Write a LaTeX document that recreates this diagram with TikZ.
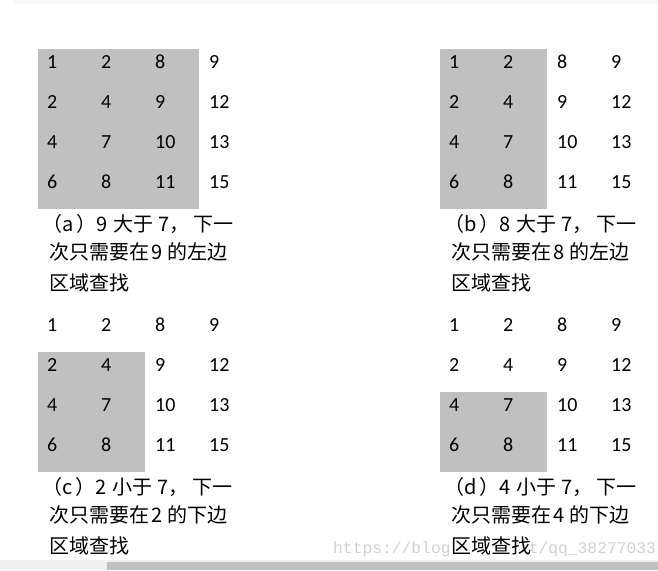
\documentclass[tikz,border=0pt]{standalone}
\usepackage{fontspec}
\setmainfont{Carlito}
\newfontfamily\cjk{Noto Sans CJK SC}
\newfontfamily\wmfont{Liberation Mono}
\definecolor{boxgray}{RGB}{192,192,192}
\definecolor{wmgray}{RGB}{208,208,208}
\tikzset{
  num/.style={anchor=base west,inner sep=0pt,font=\fontsize{20}{24}\selectfont},
  capline/.style={anchor=base west,inner sep=0pt,fill=white,font=\cjk\fontsize{20}{24}\selectfont},
}
\begin{document}
\begin{tikzpicture}[x=1pt,y=-1pt]
	\useasboundingbox (0,0) rectangle (658,570);
	% viền trang
	\fill[black!3] (14,0) rectangle (658,4);
	\fill[black!6] (0,560) rectangle (658,570);
	\fill[boxgray] (107,562) rectangle (658,570);
	% watermark
	\begin{scope}
	\clip (0,0) rectangle (658,570);
	\node[anchor=base west,inner sep=0pt,text=wmgray,font=\wmfont\fontsize{16.3}{18}\selectfont] (wm) at (333,553) {https://blog.csdn.net/qq\_38277033};
	\end{scope}
	% vùng xám
	\fill[boxgray] (38,49) rectangle (199,209);   % (a)
	\fill[boxgray] (440,49) rectangle (547,209);  % (b)
	\fill[boxgray] (38,352) rectangle (145,472);  % (c)
	\fill[boxgray] (440,392) rectangle (547,472); % (d)
	% các số
	\foreach \g/\dx/\dy in {a/0/0,b/402/0,c/0/263,d/402/263}
	\foreach \r/\row in {1/{1,2,8,9},2/{2,4,9,12},3/{4,7,10,13},4/{6,8,11,15}}
	\foreach \v [count=\c] in \row
	\node[num] (\g-\r-\c) at (\dx+54*\c-7, \dy+28+40*\r) {\v};
	% chú thích (a)
	\node[capline] (capa1) at (42,231) {（a\hspace{3pt}）9\hspace{6pt}大于\hspace{5pt}7，\hspace{4pt}下一};
	\node[capline] (capa2) at (49,259) {次只需要在\hspace{2pt}9\hspace{5pt}的左边};
	\node[capline] (capa3) at (49,290) {区域查找};
	% chú thích (b)
	\node[capline] (capb1) at (444,231) {（b\hspace{3pt}）8\hspace{6pt}大于\hspace{5pt}7，\hspace{4pt}下一};
	\node[capline] (capb2) at (451,259) {次只需要在\hspace{2pt}8\hspace{5pt}的左边};
	\node[capline] (capb3) at (451,290) {区域查找};
	% chú thích (c)
	\node[capline] (capc1) at (42,494) {（c\hspace{3pt}）2\hspace{6pt}小于\hspace{5pt}7，\hspace{4pt}下一};
	\node[capline] (capc2) at (49,522) {次只需要在\hspace{2pt}2\hspace{5pt}的下边};
	\node[capline] (capc3) at (49,553) {区域查找};
	% chú thích (d)
	\node[capline] (capd1) at (444,494) {（d\hspace{3pt}）4\hspace{6pt}小于\hspace{5pt}7，\hspace{4pt}下一};
	\node[capline] (capd2) at (451,522) {次只需要在\hspace{2pt}4\hspace{5pt}的下边};
	\node[capline] (capd3) at (451,553) {区域查找};
\end{tikzpicture}
\end{document}
